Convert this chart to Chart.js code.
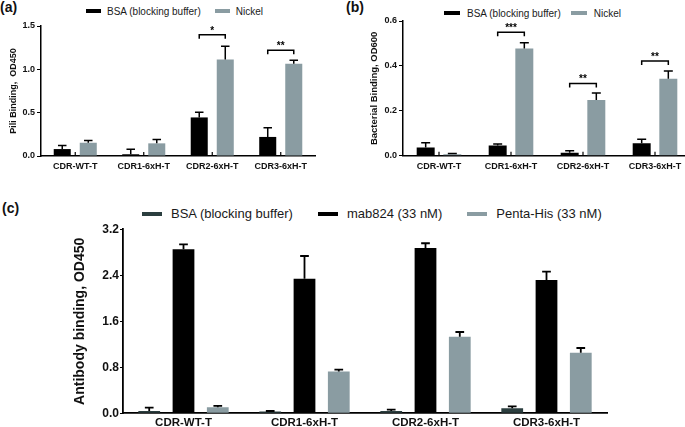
<!DOCTYPE html>
<html>
<head>
<meta charset="utf-8">
<script src="https://cdn.jsdelivr.net/npm/chart.js@4.4.0/dist/chart.umd.min.js"></script>
<style>
    body { margin: 0; width: 685px; height: 427px; overflow: hidden; background: #fff; position: relative;
           font-family: "Liberation Sans", Arial, sans-serif; }
    canvas { position: absolute; }
    .tag { position: absolute; font-weight: bold; font-size: 14px; line-height: 14px; color: #111; }
    .legend { position: absolute; display: flex; align-items: center; color: #1a1a1a; white-space: nowrap; }
</style>
</head>
<body>
<div class="tag" style="left:0;top:0">(a)</div>
<div class="tag" style="left:346px;top:0">(b)</div>
<div class="tag" style="left:2px;top:201px">(c)</div>
<div class="legend" id="legend-a"></div>
<div class="legend" id="legend-b"></div>
<div class="legend" id="legend-c"></div>
<canvas id="chart-a" width="340" height="200" style="left:0;top:0"></canvas>
<canvas id="chart-b" width="355" height="200" style="left:340px;top:0"></canvas>
<canvas id="chart-c" width="685" height="230" style="left:0;top:200px"></canvas>
<script>
// --- Data ---
const categories = ['CDR-WT-T', 'CDR1-6xH-T', 'CDR2-6xH-T', 'CDR3-6xH-T'];

// (a) pili binding, OD450
const piliBsa = [0.08, 0.02, 0.445, 0.22];
const piliBsaErr = [0.04, 0.057, 0.061, 0.106];
const piliNickel = [0.153, 0.146, 1.113, 1.063];
const piliNickelErr = [0.027, 0.044, 0.153, 0.042];
const piliSig = ['', '', '*', '**'];
const piliSigLevel = [null, null, 1.40, 1.22];

// (b) bacterial binding, OD600
const bactBsa = [0.037, 0.045, 0.013, 0.055];
const bactBsaErr = [0.021, 0.007, 0.009, 0.018];
const bactNickel = [0.006, 0.478, 0.248, 0.343];
const bactNickelErr = [0.004, 0.025, 0.031, 0.034];
const bactSig = ['', '***', '**', '**'];
const bactSigLevel = [null, 0.55, 0.322, 0.422];

// (c) antibody binding, OD450
const abBsa = [0.04, 0.03, 0.04, 0.087];
const abBsaErr = [0.06, 0.01, 0.024, 0.035];
const abMab = [2.852, 2.342, 2.875, 2.319];
const abMabErr = [0.087, 0.394, 0.082, 0.145];
const abPenta = [0.104, 0.725, 1.333, 1.055];
const abPentaErr = [0.024, 0.034, 0.081, 0.081];

const GREY = '#8a9ca2';
const DARK = '#2b3e3f';
const FONT = 'Liberation Sans';

// --- Plugin: error bars, inner x ticks, significance brackets ---
const barExtras = {
    id: 'barExtras',
    afterDatasetsDraw(chart, args, opts) {
        const ctx = chart.ctx;
        const x = chart.scales.x, y = chart.scales.y;
        ctx.save();
        ctx.strokeStyle = '#000';
        ctx.fillStyle = '#000';

        if (opts.innerTicks) {
            ctx.lineWidth = 1.2;
            chart.data.labels.forEach((_, i) => {
                const px = x.getPixelForValue(i);
                ctx.beginPath();
                ctx.moveTo(px, y.bottom);
                ctx.lineTo(px, y.bottom - opts.innerTicks);
                ctx.stroke();
            });
        }

        ctx.lineWidth = opts.errWidth;
        chart.data.datasets.forEach((ds, di) => {
            chart.getDatasetMeta(di).data.forEach((bar, i) => {
                const top = y.getPixelForValue(ds.data[i] + ds.errors[i]);
                const cap = bar.width * opts.capRatio / 2;
                ctx.beginPath();
                ctx.moveTo(bar.x, bar.y);
                ctx.lineTo(bar.x, top);
                ctx.moveTo(bar.x - cap, top);
                ctx.lineTo(bar.x + cap, top);
                ctx.stroke();
            });
        });

        if (opts.sigLabels) {
            ctx.lineWidth = 1.5;
            ctx.font = `bold 10px "${FONT}"`;
            ctx.textAlign = 'center';
            ctx.textBaseline = 'alphabetic';
            opts.sigLabels.forEach((lab, i) => {
                if (!lab) return;
                const a = chart.getDatasetMeta(0).data[i];
                const b = chart.getDatasetMeta(1).data[i];
                const py = y.getPixelForValue(opts.sigLevels[i]);
                ctx.beginPath();
                ctx.moveTo(a.x, py + 4);
                ctx.lineTo(a.x, py);
                ctx.lineTo(b.x, py);
                ctx.lineTo(b.x, py + 4);
                ctx.stroke();
                ctx.fillText(lab, (a.x + b.x) / 2, py - 1);
            });
        }
        ctx.restore();
    }
};

// --- Helpers ---
function buildLegend(id, names, colors, o) {
    const el = document.getElementById(id);
    el.style.left = o.left + 'px';
    el.style.top = (o.centerY - o.size * 0.6) + 'px';
    el.style.height = (o.size * 1.2) + 'px';
    el.style.fontSize = o.size + 'px';
    names.forEach((name, i) => {
        const item = document.createElement('span');
        item.style.cssText = `display:flex;align-items:center;margin-right:${o.itemGap}px`;
        item.innerHTML = `<span style="display:inline-block;width:${o.boxW}px;height:${o.boxH}px;background:${colors[i]};margin-right:${o.gap}px"></span><span>${name}</span>`;
        el.appendChild(item);
    });
}

function makeChart(id, cfg) {
    return new Chart(document.getElementById(id), {
        type: 'bar',
        data: {
            labels: categories,
            datasets: cfg.series.map(s => ({
                label: s.name, data: s.data, errors: s.err,
                backgroundColor: s.color, borderWidth: 0,
                categoryPercentage: cfg.catPct, barPercentage: cfg.barPct
            }))
        },
        options: {
            responsive: false,
            animation: false,
            layout: { padding: cfg.padding },
            plugins: {
                legend: { display: false },
                tooltip: { enabled: false },
                barExtras: cfg.extras
            },
            scales: {
                x: {
                    grid: { display: false },
                    border: { color: '#000', width: cfg.axisWidth },
                    ticks: { color: '#111', padding: cfg.xPad, maxRotation: 0, autoSkip: false,
                             font: { family: FONT, weight: 'bold', size: cfg.xFont } },
                    afterFit: s => { s.height = cfg.xHeight; }
                },
                y: {
                    min: 0, max: cfg.yMax,
                    grid: { drawOnChartArea: false, drawTicks: true, tickLength: cfg.tickLen, color: '#000', lineWidth: 1 },
                    border: { color: '#000', width: cfg.axisWidth },
                    ticks: { stepSize: cfg.yStep, color: '#111', padding: cfg.yPad,
                             font: { family: FONT, weight: 'bold', size: cfg.yFont },
                             callback: v => v.toFixed(1) },
                    title: { display: true, text: cfg.yTitle, color: '#111',
                             padding: { top: cfg.titleOffset, bottom: 0 },
                             font: { family: FONT, weight: 'bold', size: cfg.titleFont } },
                    afterFit: s => { s.width = cfg.yWidth; }
                }
            }
        },
        plugins: [barExtras]
    });
}

// --- Legends ---
buildLegend('legend-a', ['BSA (blocking buffer)', 'Nickel'], ['#000', GREY],
    { left: 86, centerY: 11, size: 10, boxW: 15, boxH: 4.5, gap: 6, itemGap: 14 });
buildLegend('legend-b', ['BSA (blocking buffer)', 'Nickel'], ['#000', GREY],
    { left: 444, centerY: 13, size: 10, boxW: 16, boxH: 4, gap: 7, itemGap: 10 });
buildLegend('legend-c', ['BSA (blocking buffer)', 'mab824 (33 nM)', 'Penta-His (33 nM)'], [DARK, '#000', GREY],
    { left: 142, centerY: 214, size: 13, boxW: 20, boxH: 4.5, gap: 9, itemGap: 25 });

// --- Charts ---
makeChart('chart-a', {
    series: [
        { name: 'BSA (blocking buffer)', data: piliBsa, err: piliBsaErr, color: '#000' },
        { name: 'Nickel', data: piliNickel, err: piliNickelErr, color: GREY }
    ],
    catPct: 0.76, barPct: 0.654,
    padding: { top: 26, right: 25, left: 0, bottom: 0 },
    yWidth: 41, xHeight: 44, yMax: 1.5, yStep: 0.5,
    yTitle: 'Pili Binding,  OD450', titleFont: 9, titleOffset: 8,
    xFont: 9, yFont: 9, xPad: -3, yPad: 2, tickLen: 4, axisWidth: 1.5,
    extras: { innerTicks: 4, errWidth: 1.5, capRatio: 0.5, sigLabels: piliSig, sigLevels: piliSigLevel }
});

makeChart('chart-b', {
    series: [
        { name: 'BSA (blocking buffer)', data: bactBsa, err: bactBsaErr, color: '#000' },
        { name: 'Nickel', data: bactNickel, err: bactNickelErr, color: GREY }
    ],
    catPct: 0.74, barPct: 0.675,
    padding: { top: 21, right: 4, left: 0, bottom: 0 },
    yWidth: 63, xHeight: 44.3, yMax: 0.6, yStep: 0.2,
    yTitle: 'Bacterial Binding, OD600', titleFont: 9.5, titleOffset: 29,
    xFont: 9, yFont: 9, xPad: -3, yPad: 2, tickLen: 4, axisWidth: 1.5,
    extras: { innerTicks: 4, errWidth: 1.5, capRatio: 0.5, sigLabels: bactSig, sigLevels: bactSigLevel }
});

makeChart('chart-c', {
    series: [
        { name: 'BSA (blocking buffer)', data: abBsa, err: abBsaErr, color: DARK },
        { name: 'mab824 (33 nM)', data: abMab, err: abMabErr, color: '#000' },
        { name: 'Penta-His (33 nM)', data: abPenta, err: abPentaErr, color: GREY }
    ],
    catPct: 0.85, barPct: 0.635,
    padding: { top: 29.3, right: 78, left: 0, bottom: 0 },
    yWidth: 123, xHeight: 16.7, yMax: 3.2, yStep: 0.8,
    yTitle: 'Antibody binding, OD450', titleFont: 14, titleOffset: 71.6,
    xFont: 11.5, yFont: 12, xPad: -5, yPad: 1, tickLen: 3, axisWidth: 1.8,
    extras: { innerTicks: 0, errWidth: 1.8, capRatio: 0.4 }
});
</script>
</body>
</html>
